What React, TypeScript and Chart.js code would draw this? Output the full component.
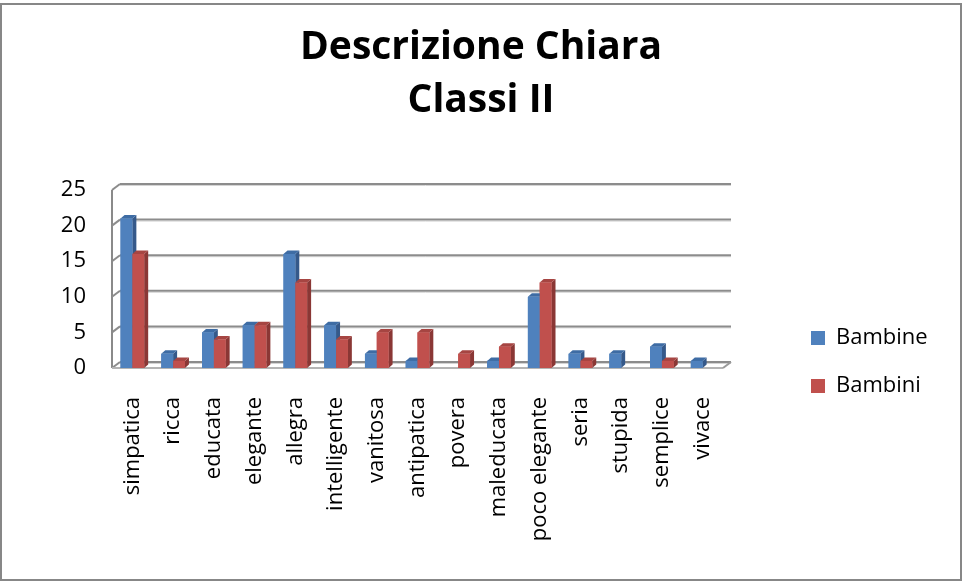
import React, { useEffect, useRef } from 'react';
import { Chart, registerables } from 'chart.js';

Chart.register(...registerables);

// ---- data ----
const categories = [
  'simpatica', 'ricca', 'educata', 'elegante', 'allegra', 'intelligente', 'vanitosa',
  'antipatica', 'povera', 'maleducata', 'poco elegante', 'seria', 'stupida', 'semplice', 'vivace',
];
const bambine = [21, 2, 5, 6, 16, 6, 2, 1, 0, 1, 10, 2, 2, 3, 1];
const bambini = [16, 1, 4, 6, 12, 4, 5, 5, 2, 3, 12, 1, 0, 1, 0];
const seriesNames = ['Bambine', 'Bambini'];
const titleLines = ['Descrizione Chiara', 'Classi II'];
const yMin = 0;
const yMax = 25;
const yStep = 5;

const FONT = "'Open Sans', sans-serif";
const faceColors = [
  { front: '#4F81BD', side: '#35598A', top: '#3E6CA4' },
  { front: '#C0504D', side: '#8A3735', top: '#A64542' },
];

// depth of the back wall and of the bars
const WALL_DX = 8;
const WALL_DY = -6;
const BAR_DX = 4;
const BAR_DY = -3.5;

function poly(ctx: CanvasRenderingContext2D, pts: number[][], fill: string) {
  ctx.beginPath();
  ctx.moveTo(pts[0][0], pts[0][1]);
  for (let i = 1; i < pts.length; i++) ctx.lineTo(pts[i][0], pts[i][1]);
  ctx.closePath();
  ctx.fillStyle = fill;
  ctx.fill();
}

function line(ctx: CanvasRenderingContext2D, x1: number, y1: number, x2: number, y2: number, color: string, w: number) {
  ctx.beginPath();
  ctx.moveTo(x1, y1);
  ctx.lineTo(x2, y2);
  ctx.strokeStyle = color;
  ctx.lineWidth = w;
  ctx.stroke();
}

const threeD = {
  id: 'threeD',
  beforeDatasetsDraw(chart: any) {
    const { ctx, chartArea } = chart;
    const { left, right, top, bottom } = chartArea;
    const y = chart.scales.y;
    ctx.save();
    // left side wall edge
    line(ctx, left, top, left, bottom, '#8a8a8a', 2);
    // back wall grid lines + side wall diagonals
    y.ticks.forEach((t: any) => {
      const py = y.getPixelForValue(t.value);
      line(ctx, left + WALL_DX, py + WALL_DY + 1.5, right + WALL_DX, py + WALL_DY + 1.5, '#d4d4d4', 1);
      line(ctx, left + WALL_DX, py + WALL_DY, right + WALL_DX, py + WALL_DY, '#8c8c8c', 2);
      line(ctx, left, py, left + WALL_DX, py + WALL_DY, '#8c8c8c', 2);
    });
    // floor front edge
    line(ctx, left, bottom, right, bottom, '#b4b4b4', 2);
    line(ctx, right, bottom, right + WALL_DX, bottom + WALL_DY, '#9a9a9a', 2);
    ctx.restore();
  },
  afterDatasetsDraw(chart: any) {
    const { ctx } = chart;
    ctx.save();
    chart.data.datasets.forEach((ds: any, di: number) => {
      const meta = chart.getDatasetMeta(di);
      const c = faceColors[di];
      meta.data.forEach((bar: any, i: number) => {
        const v = ds.data[i];
        if (!v) return;
        const { x, y, base, width } = bar.getProps(['x', 'y', 'base', 'width'], true);
        const l = x - width / 2;
        const r = x + width / 2;
        // side face
        poly(ctx, [[r, y], [r + BAR_DX, y + BAR_DY], [r + BAR_DX, base + BAR_DY], [r, base]], c.side);
        // top face
        poly(ctx, [[l, y], [l + BAR_DX, y + BAR_DY], [r + BAR_DX, y + BAR_DY], [r, y]], c.top);
        // front face
        poly(ctx, [[l, y], [r, y], [r, base], [l, base]], c.front);
      });
    });
    ctx.restore();
  },
};

export default function App() {
  const ref = useRef<HTMLCanvasElement>(null);

  useEffect(() => {
    const canvas = ref.current;
    if (!canvas) return;
    const chart = new Chart(canvas, {
      type: 'bar',
      data: {
        labels: categories,
        datasets: [
          { label: seriesNames[0], data: bambine, backgroundColor: faceColors[0].front, borderWidth: 0 },
          { label: seriesNames[1], data: bambini, backgroundColor: faceColors[1].front, borderWidth: 0 },
        ],
      },
      options: {
        responsive: false,
        animation: false,
        devicePixelRatio: 1,
        datasets: { bar: { categoryPercentage: 0.58, barPercentage: 1 } },
        layout: { padding: { top: 0, left: 25, right: 25, bottom: 0 } },
        plugins: {
          title: {
            display: true,
            text: titleLines,
            color: '#000',
            font: { family: FONT, size: 39, weight: 'bold', lineHeight: '53px' },
            padding: { top: 21.5, bottom: 62.5 },
          },
          legend: {
            position: 'right',
            align: 'center',
            title: { display: true, text: ' ', padding: 0, font: { family: FONT, size: 1, lineHeight: '143px' } },
            labels: {
              boxWidth: 14,
              boxHeight: 14,
              padding: 26,
              color: '#000',
              font: { family: FONT, size: 22 },
            },
          },
          tooltip: { enabled: false },
        },
        scales: {
          x: {
            grid: { display: false },
            border: { display: false },
            ticks: {
              autoSkip: false,
              maxRotation: 90,
              minRotation: 90,
              padding: 21,
              color: '#000',
              font: { family: FONT, size: 22 },
            },
            afterFit: (s: any) => { s.height = 213; },
          },
          y: {
            min: yMin,
            max: yMax,
            grid: { display: false },
            border: { display: false },
            ticks: {
              stepSize: yStep,
              padding: 18,
              color: '#000',
              font: { family: FONT, size: 22 },
            },
            afterFit: (s: any) => { s.width = 87; },
          },
          pad: {
            type: 'linear',
            position: 'right',
            display: true,
            grid: { display: false },
            border: { display: false },
            ticks: { display: false },
            afterFit: (s: any) => { s.width = 62; },
          },
        },
      } as any,
      plugins: [threeD],
    });
    return () => chart.destroy();
  }, []);

  return (
    <div style={{ position: 'fixed', left: 0, top: 0, width: 962, height: 581, background: '#fff' }}>
      <canvas ref={ref} width={962} height={581} style={{ position: 'absolute', left: 0, top: 0, width: 962, height: 581 }} />
      <div
        style={{
          position: 'absolute', left: 0, top: 3, width: 962, height: 578,
          border: '2px solid #878787', boxSizing: 'border-box', pointerEvents: 'none',
        }}
      />
    </div>
  );
}
